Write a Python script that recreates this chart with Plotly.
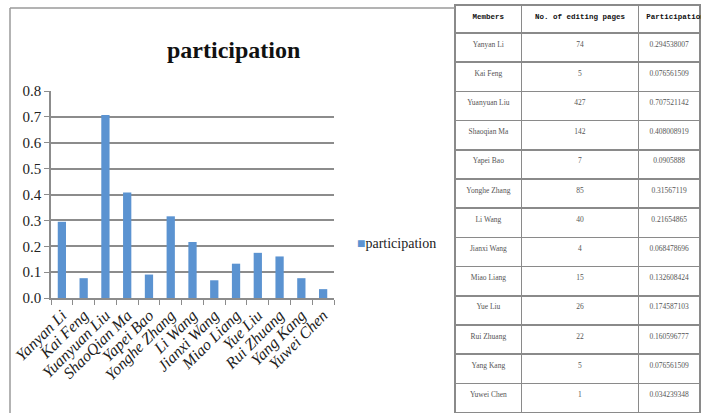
import plotly.graph_objects as go

members = ["Yanyan Li", "Kai Feng", "Yuanyuan Liu", "ShaoQian Ma", "Yapei Bao",
           "Yonghe Zhang", "Li Wang", "Jianxi Wang", "Miao Liang", "Yue Liu",
           "Rui Zhuang", "Yang Kang", "Yuwei Chen"]
table_members = ["Yanyan Li", "Kai Feng", "Yuanyuan Liu", "Shaoqian Ma", "Yapei Bao",
                 "Yonghe Zhang", "Li Wang", "Jianxi Wang", "Miao Liang", "Yue Liu",
                 "Rui Zhuang", "Yang Kang", "Yuwei Chen"]
pages = [74, 5, 427, 142, 7, 85, 40, 4, 15, 26, 22, 5, 1]
participation = [0.294538007, 0.076561509, 0.707521142, 0.408008919, 0.0905888,
                 0.31567119, 0.21654865, 0.068478696, 0.132608424, 0.174587103,
                 0.160596777, 0.076561509, 0.034239348]
table_header = ["Members", "No. of editing pages", "Participation"]

W, H = 701, 413
def px(x): return x / W
def py(y): return 1 - y / H

BLUE = "#5b93d1"

fig = go.Figure()
fig.add_trace(go.Bar(x=members, y=participation, name="participation",
                     marker=dict(color=BLUE, line=dict(width=0)),
                     showlegend=False))

fig.add_trace(go.Table(
    domain=dict(x=[px(455), 1.0], y=[0, py(5)]),
    columnwidth=[67, 117, 62],
    header=dict(values=table_header, height=28, align=["center", "center", "left"],
                fill_color="white", line=dict(color="#8a8a8a", width=1.5),
                font=dict(family="Liberation Mono", size=7.5, color="#111111", weight="bold")),
    cells=dict(values=[table_members, pages, [f"0.{str(v)[2:]}" for v in participation]],
               height=29.2, align="center", fill_color="white",
               line=dict(color="#8a8a8a", width=1.5),
               font=dict(family="Liberation Serif", size=7.5, color="#555555")),
))

fig.update_layout(
    width=W, height=H, margin=dict(l=0, r=0, t=0, b=0, autoexpand=False),
    paper_bgcolor="white", plot_bgcolor="white",
    bargap=0.62,
    xaxis=dict(domain=[px(51), px(334)], automargin=False,
               showline=True, linecolor="#8c8c8c", linewidth=1.5,
               ticks="outside", tickson="boundaries", ticklen=5, tickcolor="#8c8c8c",
               tickangle=-45,
               tickfont=dict(family="Liberation Serif", size=16, color="#222222", style="italic")),
    yaxis=dict(domain=[py(298), py(91)], range=[0, 0.8], dtick=0.1, tickformat=".1f",
               automargin=False,
               showline=True, linecolor="#8c8c8c", linewidth=1.5, zeroline=False,
               showgrid=True, gridcolor="#8c8c8c", gridwidth=1.5,
               ticks="outside", ticklen=5, tickcolor="#8c8c8c",
               tickfont=dict(family="Liberation Serif", size=15, color="#222222")),
    shapes=[
        dict(type="line", xref="paper", yref="paper", x0=px(10), x1=px(455), y0=py(8), y1=py(8),
             line=dict(color="#9a9a9a", width=1.5)),
        dict(type="line", xref="paper", yref="paper", x0=px(10), x1=px(10), y0=py(8), y1=0,
             line=dict(color="#9a9a9a", width=1.5)),
    ],
    annotations=[
        dict(text="<b>participation</b>", xref="paper", yref="paper",
             x=px(233), y=py(50), showarrow=False, xanchor="center", yanchor="middle",
             font=dict(family="Liberation Serif", size=24, color="#111111")),
        dict(text=f"<span style='color:{BLUE}'>■</span>participation", xref="paper", yref="paper",
             x=px(355), y=py(244), showarrow=False, xanchor="left", yanchor="middle",
             font=dict(family="Liberation Serif", size=14, color="#222222")),
    ],
)

fig.write_html("out.html")
